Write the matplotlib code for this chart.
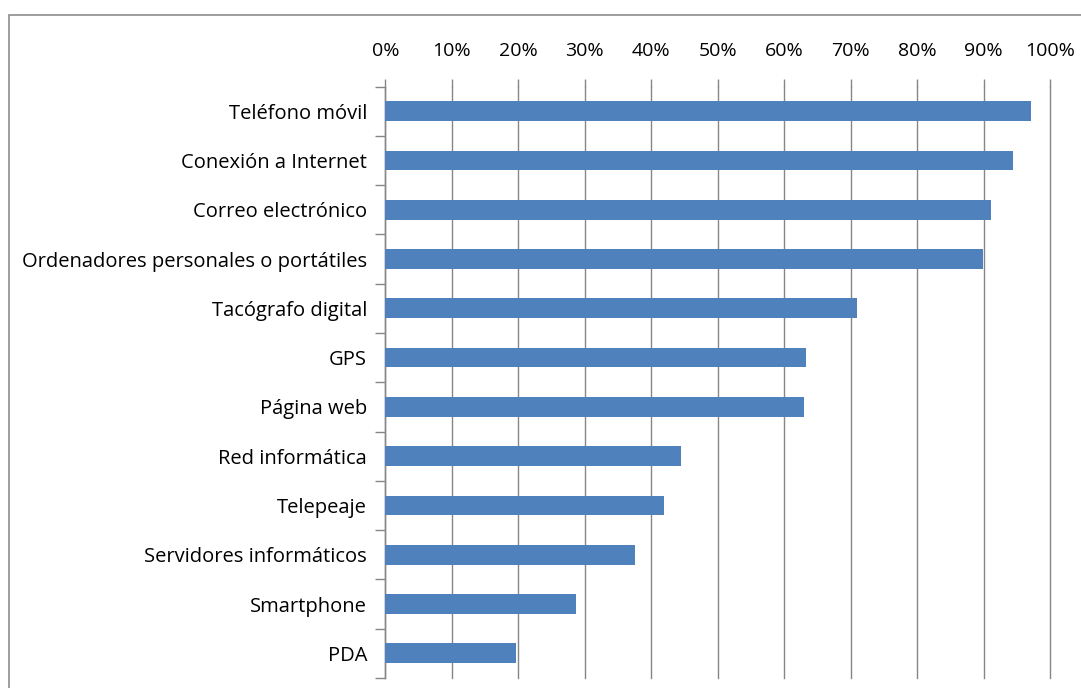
import matplotlib
matplotlib.use("Agg")
import matplotlib.pyplot as plt
from matplotlib.patches import Rectangle
import numpy as np

categories = ["Teléfono móvil", "Conexión a Internet", "Correo electrónico",
              "Ordenadores personales o portátiles", "Tacógrafo digital", "GPS",
              "Página web", "Red informática", "Telepeaje",
              "Servidores informáticos", "Smartphone", "PDA"]
values = [97.2, 94.5, 91.1, 89.9, 70.9, 63.3, 63.0, 44.5, 42.0, 37.5, 28.7, 19.6]
xticks = list(range(0, 101, 10))
xticklabels = [f"{t}%" for t in xticks]

plt.rcParams['font.family'] = ['Open Sans', 'DejaVu Sans']

fig = plt.figure(figsize=(10.81, 6.88), dpi=100)
ax = fig.add_axes([385.3/1081, 1-678/688, (1050-385.3)/1081, (678-86.5)/688])

n = len(categories)
y = np.arange(n)
ax.barh(y, values, height=0.4, color="#4F81BD", zorder=3)
ax.set_ylim(n-0.5, -0.5)
ax.set_xlim(0, 100)

ax.xaxis.tick_top()
ax.set_xticks(xticks)
ax.set_xticklabels(xticklabels, fontsize=14, color="#000000")
ax.tick_params(axis='x', which='major', length=6, width=1, color="#868686", pad=13)
ax.grid(axis='x', color="#868686", linewidth=1, zorder=0)
for gl in ax.get_xgridlines():
    gl.set_clip_on(False)

ax.set_yticks(y)
ax.set_yticklabels(categories, fontsize=14.5, color="#000000")
ax.set_yticks(np.arange(n+1)-0.5, minor=True)
ax.tick_params(axis='y', which='major', length=0, pad=13)
ax.tick_params(axis='y', which='minor', length=7, width=1, color="#868686")

for s in ['top', 'right', 'bottom']:
    ax.spines[s].set_visible(False)
ax.spines['left'].set_color("#868686")
ax.spines['left'].set_linewidth(1)

fig.patches.append(Rectangle((9/1081, -0.1), 1.2, 1.1 - 15/688, transform=fig.transFigure,
                             fill=False, edgecolor="#8c8c8c", linewidth=1.2))

fig.savefig("out.png", dpi=100)
